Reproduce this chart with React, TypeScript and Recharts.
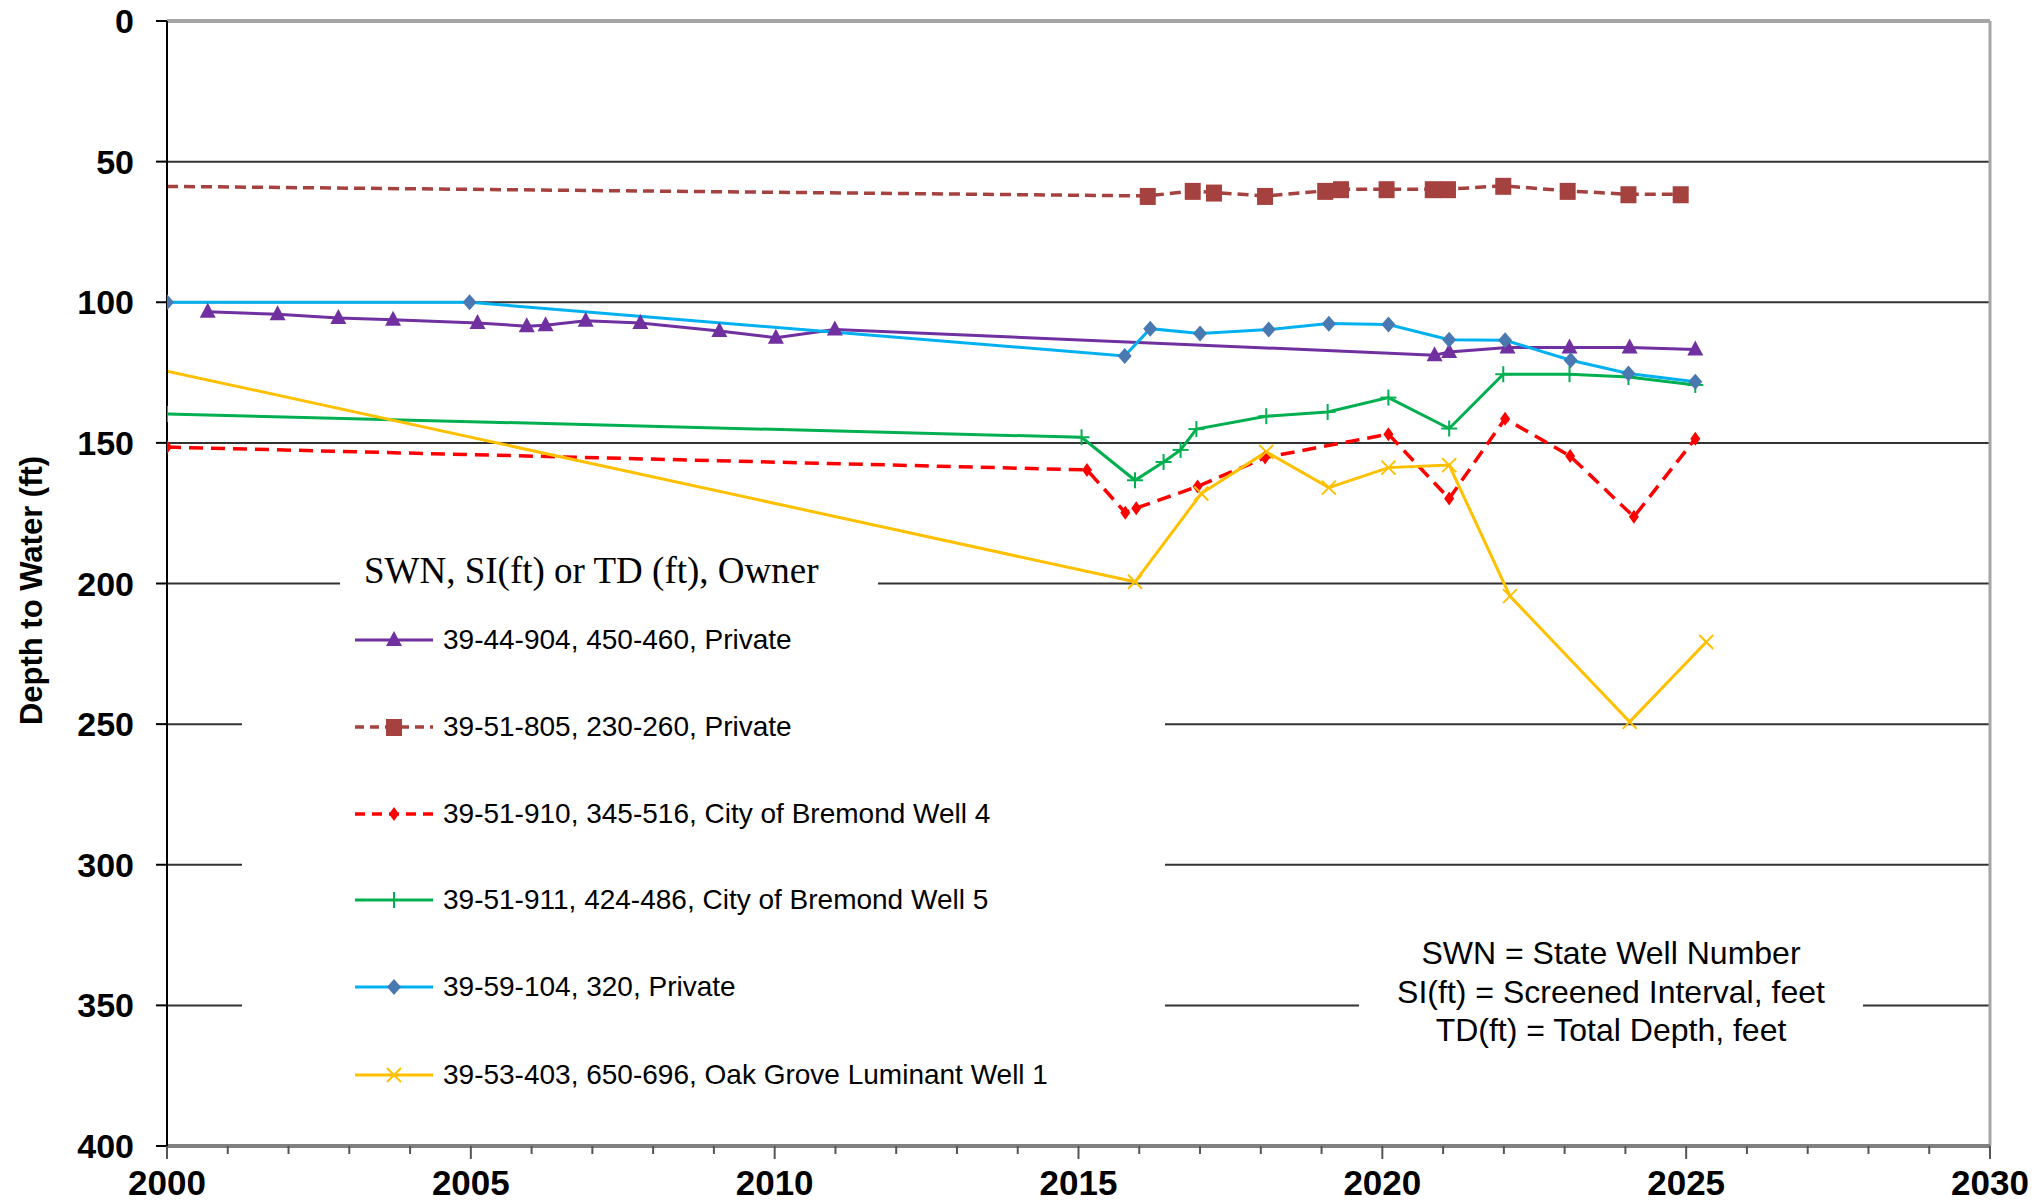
import React from 'react';
import {
  LineChart,
  Line,
  XAxis,
  YAxis,
  CartesianGrid,
  ReferenceLine,
  Legend,
  Customized,
  Label,
} from 'recharts';

const SANS = "'Liberation Sans', Arial, sans-serif";
const SERIF = "'Liberation Serif', 'Times New Roman', serif";

// ---- data (decimal year, depth to water in ft) ----
const years904 = [2000.67, 2001.82, 2002.82, 2003.72, 2005.11, 2005.92, 2006.23, 2006.89, 2007.79, 2009.09, 2010.02, 2010.99, 2020.86, 2021.1, 2022.06, 2023.08, 2024.07, 2025.15];
const depth904 = [103.4, 104.3, 105.6, 106.2, 107.4, 108.5, 108.2, 106.6, 107.4, 110.2, 112.6, 109.7, 118.8, 117.7, 116.1, 116.1, 116.1, 116.8];

const years805 = [2000, 2016.14, 2016.88, 2017.23, 2018.07, 2019.06, 2019.32, 2020.07, 2020.83, 2021.08, 2021.99, 2023.05, 2024.05, 2024.91];
const depth805 = [58.8, 62.2, 60.4, 61.0, 62.2, 60.4, 59.8, 59.8, 59.8, 59.8, 58.6, 60.4, 61.6, 61.6];

const years910 = [2000, 2015.14, 2015.77, 2015.95, 2016.96, 2018.07, 2020.1, 2021.1, 2022.02, 2023.09, 2024.14, 2025.15];
const depth910 = [151.5, 159.6, 174.8, 173.2, 165.5, 155.2, 146.9, 169.8, 141.4, 154.7, 176.3, 148.5];

const years911 = [2000, 2015.05, 2015.93, 2016.4, 2016.68, 2016.94, 2018.09, 2019.1, 2020.1, 2021.1, 2021.99, 2023.08, 2024.05, 2025.15];
const depth911 = [139.7, 148.0, 163.3, 156.8, 152.5, 145.1, 140.5, 139.0, 133.9, 144.9, 125.6, 125.6, 126.6, 129.4];

const years104 = [2000, 2004.98, 2015.76, 2016.18, 2017.0, 2018.13, 2019.12, 2020.1, 2021.1, 2022.02, 2023.1, 2024.05, 2025.15];
const depth104 = [100, 100, 119.1, 109.4, 111.1, 109.7, 107.6, 107.9, 113.3, 113.5, 120.6, 125.3, 128.3];

const years403 = [2000, 2015.93, 2017.02, 2018.09, 2019.12, 2020.1, 2021.1, 2022.1, 2024.07, 2025.33];
const depth403 = [124.5, 199.4, 168.0, 153.2, 165.9, 158.8, 157.9, 204.5, 249.2, 220.8];

const xTicks = [2000, 2001, 2002, 2003, 2004, 2005, 2006, 2007, 2008, 2009, 2010, 2011, 2012, 2013, 2014, 2015, 2016, 2017, 2018, 2019, 2020, 2021, 2022, 2023, 2024, 2025, 2026, 2027, 2028, 2029, 2030];
const xLabelTicks = [2000, 2005, 2010, 2015, 2020, 2025, 2030];
const yTicks = [0, 50, 100, 150, 200, 250, 300, 350, 400];

const yTitle = 'Depth to Water (ft)';
const legendTitle = 'SWN, SI(ft) or TD (ft), Owner';
const notes = ['SWN = State Well Number', 'SI(ft) = Screened Interval, feet', 'TD(ft) = Total Depth, feet'];

const names = [
  '39-44-904, 450-460, Private',
  '39-51-805, 230-260, Private',
  '39-51-910, 345-516, City of Bremond Well 4',
  '39-51-911, 424-486, City of Bremond Well 5',
  '39-59-104, 320, Private',
  '39-53-403, 650-696, Oak Grove Luminant Well 1',
];

const toPoints = (xs: number[], ys: number[]) => xs.map((year, i) => ({ year, depth: ys[i] }));

// ---- marker shapes ----
type ShapeFn = (cx: number, cy: number, key?: any) => React.ReactElement;

const triangle: ShapeFn = (cx, cy, key) => (
  <polygon key={key} points={`${cx},${cy - 9} ${cx - 8},${cy + 6} ${cx + 8},${cy + 6}`} fill="#7030A0" />
);
const square: ShapeFn = (cx, cy, key) => (
  <rect key={key} x={cx - 8} y={cy - 8} width={16} height={17} fill="#A5423F" />
);
const smallDiamond: ShapeFn = (cx, cy, key) => (
  <polygon key={key} points={`${cx},${cy - 7} ${cx + 5},${cy} ${cx},${cy + 7} ${cx - 5},${cy}`} fill="#FF0000" />
);
const plus: ShapeFn = (cx, cy, key) => (
  <g key={key} stroke="#00B050" strokeWidth={2}>
    <line x1={cx - 8} x2={cx + 8} y1={cy} y2={cy} />
    <line x1={cx} x2={cx} y1={cy - 8} y2={cy + 8} />
  </g>
);
const diamond: ShapeFn = (cx, cy, key) => (
  <polygon key={key} points={`${cx},${cy - 8} ${cx + 7},${cy} ${cx},${cy + 8} ${cx - 7},${cy}`} fill="#4A78B0" />
);
const cross: ShapeFn = (cx, cy, key) => (
  <g key={key} stroke="#FFC000" strokeWidth={2}>
    <line x1={cx - 7} x2={cx + 7} y1={cy - 7} y2={cy + 7} />
    <line x1={cx - 7} x2={cx + 7} y1={cy + 7} y2={cy - 7} />
  </g>
);

type Series = {
  name: string;
  data: { year: number; depth: number }[];
  color: string;
  width: number;
  dash?: string;
  legendDash?: string;
  shape: ShapeFn;
  skipFirstMarker?: boolean;
};

const series: Series[] = [
  { name: names[0], data: toPoints(years904, depth904), color: '#7030A0', width: 3, shape: triangle },
  { name: names[1], data: toPoints(years805, depth805), color: '#A5423F', width: 3.5, dash: '11 6', legendDash: '9 6', shape: square, skipFirstMarker: true },
  { name: names[2], data: toPoints(years910, depth910), color: '#FF0000', width: 3.5, dash: '14 8', legendDash: '10 7', shape: smallDiamond },
  { name: names[3], data: toPoints(years911, depth911), color: '#00B050', width: 3, shape: plus },
  { name: names[4], data: toPoints(years104, depth104), color: '#00B0F0', width: 3, shape: diamond },
  { name: names[5], data: toPoints(years403, depth403), color: '#FFC000', width: 3, shape: cross, skipFirstMarker: true },
];

const makeDot = (s: Series) => (props: any) => {
  const { cx, cy, index } = props;
  const key = `${s.name}-${index}`;
  if (cx == null || cy == null || (s.skipFirstMarker && index === 0)) return <g key={key} />;
  return s.shape(cx, cy, key);
};

const XTick = (props: any) => {
  const { x, y, payload } = props;
  const v = payload.value;
  const major = xLabelTicks.includes(v);
  return (
    <g>
      <line x1={x} x2={x} y1={y} y2={y + (major ? 13 : 8)} stroke="#555" strokeWidth={2} />
      {major && (
        <text x={x} y={y + 37} dy="0.355em" textAnchor="middle" fill="#000" fontSize={35} fontWeight={700} fontFamily={SANS}>
          {v}
        </text>
      )}
    </g>
  );
};

const YTitle = (props: any) => {
  const vb = props.viewBox || { x: 0, y: 21, width: 167, height: 1125 };
  const x = vb.x + 31;
  const y = vb.y + vb.height / 2 + 7;
  return (
    <text x={x} y={y} transform={`rotate(-90, ${x}, ${y})`} textAnchor="middle" dominantBaseline="central" fontSize={31} fontWeight={700} fontFamily={SANS} fill="#000">
      {yTitle}
    </text>
  );
};

const Annotation = () => (
  <g>
    <rect x={1359} y={930} width={504} height={122} fill="#fff" />
    {notes.map((t, i) => (
      <text key={t} x={1611} y={953 + i * 38.5} textAnchor="middle" dominantBaseline="central" fontSize={32} fontFamily={SANS} fill="#000">
        {t}
      </text>
    ))}
  </g>
);

const LegendContent = () => {
  const rowTops = [92, 179, 266, 352, 439, 527];
  return (
    <div style={{ position: 'relative', width: 923, height: 560 }}>
      <div
        style={{
          position: 'absolute', left: 98, top: 0, width: 538, height: 46, background: '#fff',
          fontFamily: SERIF, fontSize: 37, lineHeight: '46px', color: '#000', paddingLeft: 24, boxSizing: 'border-box', whiteSpace: 'nowrap',
        }}
      >
        {legendTitle}
      </div>
      <div style={{ position: 'absolute', left: 0, top: 52, width: 923, height: 500, background: '#fff' }} />
      {series.map((s, i) => (
        <div key={s.name} style={{ position: 'absolute', left: 113, top: rowTops[i] - 18, height: 36, display: 'flex', alignItems: 'center', whiteSpace: 'nowrap' }}>
          <svg width={80} height={36} style={{ display: 'block' }}>
            <line x1={0} x2={78} y1={18} y2={18} stroke={s.color} strokeWidth={s.width} strokeDasharray={s.legendDash} />
            {s.shape(39, 18)}
          </svg>
          <span style={{ marginLeft: 8, fontFamily: SANS, fontSize: 28, color: '#000' }}>{s.name}</span>
        </div>
      ))}
    </div>
  );
};

export default function App() {
  return (
    <div style={{ position: 'absolute', left: 0, top: 0, width: 2037, height: 1203, background: '#fff' }}>
      <LineChart width={2037} height={1203} margin={{ top: 21, right: 47, bottom: 0, left: 0 }}>
        <CartesianGrid vertical={false} stroke="#333" strokeWidth={2} />
        <XAxis
          type="number"
          dataKey="year"
          domain={[2000, 2030]}
          ticks={xTicks}
          interval={0}
          allowDataOverflow
          height={57}
          tickLine={false}
          tickSize={0}
          tickMargin={0}
          tick={<XTick />}
          axisLine={{ stroke: '#808080', strokeWidth: 4 }}
        />
        <YAxis
          type="number"
          dataKey="depth"
          reversed
          domain={[0, 400]}
          ticks={yTicks}
          interval={0}
          allowDataOverflow
          width={167}
          tickSize={11}
          tickMargin={22}
          tickLine={{ stroke: '#000', strokeWidth: 2 }}
          axisLine={{ stroke: '#000', strokeWidth: 2 }}
          tick={{ fill: '#000', fontSize: 34, fontWeight: 700, fontFamily: SANS }}
        >
          <Label content={<YTitle />} />
        </YAxis>
        <ReferenceLine y={0} stroke="#a6a6a6" strokeWidth={4} />
        <ReferenceLine x={2030} stroke="#a6a6a6" strokeWidth={3} />
        <Customized component={Annotation} />
        {series.map((s) => (
          <Line
            key={s.name}
            name={s.name}
            data={s.data}
            dataKey="depth"
            type="linear"
            stroke={s.color}
            strokeWidth={s.width}
            strokeDasharray={s.dash}
            dot={makeDot(s)}
            activeDot={false}
            isAnimationActive={false}
            legendType="line"
          />
        ))}
        <Legend
          layout="horizontal"
          verticalAlign="middle"
          align="center"
          content={<LegendContent />}
          wrapperStyle={{ position: 'absolute', left: 242, top: 548, width: 923, height: 560 }}
        />
      </LineChart>
    </div>
  );
}
